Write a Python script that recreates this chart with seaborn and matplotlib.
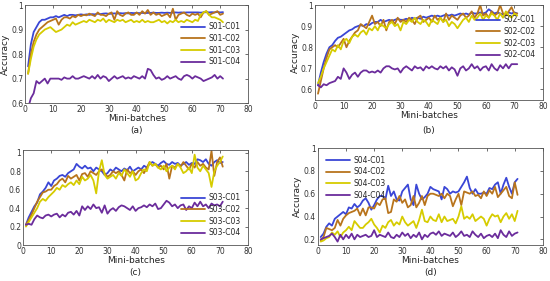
import pandas as pd
import numpy as np
import matplotlib.pyplot as plt
import seaborn as sns

# ---- data (x = mini-batch 1..71) ----
a_c01 = [0.75, 0.84, 0.89, 0.91, 0.93, 0.94, 0.94, 0.945, 0.95, 0.95,
         0.955, 0.95, 0.955, 0.96, 0.955, 0.96, 0.96, 0.958, 0.96, 0.962,
         0.96, 0.962, 0.96, 0.963, 0.962, 0.965, 0.963, 0.965, 0.966, 0.964,
         0.965, 0.966, 0.965, 0.967, 0.966, 0.967, 0.966, 0.968, 0.967, 0.968,
         0.967, 0.968, 0.967, 0.968, 0.968, 0.969, 0.968, 0.968, 0.969, 0.968,
         0.969, 0.968, 0.969, 0.97, 0.969, 0.97, 0.969, 0.97, 0.97, 0.97,
         0.97, 0.97, 0.969, 0.97, 0.971, 0.97, 0.971, 0.97, 0.972, 0.97, 0.971]
a_c02 = [0.72, 0.80, 0.85, 0.88, 0.90, 0.91, 0.92, 0.93, 0.935, 0.94,
         0.945, 0.92, 0.94, 0.95, 0.95, 0.945, 0.955, 0.95, 0.96, 0.955,
         0.96, 0.958, 0.965, 0.96, 0.955, 0.97, 0.96, 0.96, 0.955, 0.965,
         0.97, 0.94, 0.975, 0.96, 0.955, 0.965, 0.97, 0.96, 0.96, 0.97,
         0.96, 0.975, 0.965, 0.98, 0.96, 0.97, 0.96, 0.965, 0.955, 0.96,
         0.965, 0.95, 0.985, 0.94, 0.96, 0.965, 0.97, 0.96, 0.955, 0.965,
         0.96, 0.965, 0.95, 0.97, 0.975, 0.96, 0.965, 0.97, 0.975, 0.96, 0.965]
a_c03 = [0.72, 0.78, 0.83, 0.86, 0.88, 0.89, 0.90, 0.905, 0.91, 0.90,
         0.89, 0.895, 0.90, 0.91, 0.92, 0.915, 0.93, 0.92, 0.925, 0.93,
         0.935, 0.93, 0.94, 0.935, 0.93, 0.94, 0.935, 0.945, 0.93, 0.94,
         0.935, 0.93, 0.94, 0.935, 0.94, 0.93, 0.935, 0.94, 0.93, 0.935,
         0.93, 0.94, 0.93, 0.935, 0.93, 0.93, 0.935, 0.94, 0.93, 0.935,
         0.925, 0.935, 0.93, 0.94, 0.93, 0.935, 0.93, 0.94, 0.935, 0.93,
         0.94, 0.935, 0.96, 0.97, 0.975, 0.96, 0.95, 0.95, 0.945, 0.94, 0.93]
a_c04 = [0.58, 0.62, 0.64, 0.69, 0.68, 0.69, 0.70, 0.68, 0.70, 0.70,
         0.70, 0.70, 0.695, 0.705, 0.70, 0.70, 0.71, 0.70, 0.70, 0.705,
         0.71, 0.705, 0.70, 0.71, 0.70, 0.715, 0.70, 0.71, 0.705, 0.69,
         0.70, 0.71, 0.70, 0.705, 0.71, 0.70, 0.705, 0.70, 0.71, 0.705,
         0.70, 0.71, 0.70, 0.74, 0.735, 0.715, 0.70, 0.705, 0.695, 0.70,
         0.71, 0.70, 0.705, 0.71, 0.70, 0.695, 0.71, 0.715, 0.71, 0.70,
         0.71, 0.705, 0.70, 0.69, 0.695, 0.70, 0.705, 0.715, 0.70, 0.71, 0.70]

b_c01 = [0.62, 0.68, 0.73, 0.77, 0.80, 0.81, 0.83, 0.845, 0.85, 0.86,
         0.87, 0.88, 0.885, 0.895, 0.90, 0.905, 0.90, 0.91, 0.905, 0.915,
         0.92, 0.92, 0.93, 0.92, 0.925, 0.93, 0.925, 0.93, 0.935, 0.93,
         0.93, 0.935, 0.93, 0.94, 0.935, 0.94, 0.935, 0.945, 0.94, 0.945,
         0.95, 0.945, 0.95, 0.945, 0.95, 0.955, 0.95, 0.955, 0.95, 0.955,
         0.96, 0.955, 0.96, 0.955, 0.965, 0.96, 0.96, 0.965, 0.96, 0.965,
         0.98, 0.97, 0.96, 0.965, 0.96, 0.955, 0.96, 0.965, 0.96, 0.965, 0.96]
b_c02 = [0.58, 0.64, 0.70, 0.75, 0.79, 0.80, 0.81, 0.80, 0.82, 0.84,
         0.80, 0.83, 0.85, 0.87, 0.88, 0.91, 0.90, 0.89, 0.92, 0.95,
         0.91, 0.92, 0.90, 0.93, 0.88, 0.92, 0.93, 0.91, 0.94, 0.92,
         0.93, 0.92, 0.94, 0.93, 0.91, 0.94, 0.95, 0.92, 0.93, 0.94,
         0.92, 0.95, 0.93, 0.94, 0.92, 0.96, 0.93, 0.95, 0.94, 0.93,
         0.95, 0.96, 0.94, 0.95, 0.97, 0.94, 0.96, 1.00, 0.95, 0.96,
         0.94, 0.97, 0.95, 0.96, 1.00, 0.96, 0.95, 0.97, 0.99, 0.96, 0.96]
b_c03 = [0.63, 0.66, 0.70, 0.73, 0.76, 0.79, 0.78, 0.81, 0.79, 0.83,
         0.84, 0.82, 0.85, 0.86, 0.85, 0.87, 0.88, 0.86, 0.89, 0.88,
         0.90, 0.88, 0.91, 0.90, 0.89, 0.91, 0.92, 0.90, 0.91, 0.88,
         0.92, 0.91, 0.93, 0.92, 0.94, 0.92, 0.91, 0.93, 0.92, 0.90,
         0.93, 0.92, 0.91, 0.94, 0.92, 0.93, 0.90, 0.92, 0.91, 0.89,
         0.91, 0.93, 0.94, 0.92, 0.95, 0.93, 0.94, 0.96, 0.93, 0.95,
         0.94, 0.96, 0.95, 0.93, 0.96, 0.94, 0.97, 0.95, 0.94, 0.96, 0.95]
b_c04 = [0.62, 0.61, 0.625, 0.62, 0.63, 0.635, 0.64, 0.66, 0.65, 0.70,
         0.68, 0.65, 0.67, 0.68, 0.66, 0.68, 0.69, 0.69, 0.68, 0.685,
         0.68, 0.69, 0.68, 0.70, 0.71, 0.71, 0.70, 0.695, 0.70, 0.68,
         0.70, 0.71, 0.70, 0.69, 0.71, 0.70, 0.705, 0.69, 0.71, 0.70,
         0.71, 0.70, 0.695, 0.71, 0.70, 0.71, 0.69, 0.705, 0.695, 0.665,
         0.70, 0.71, 0.69, 0.70, 0.72, 0.70, 0.71, 0.69, 0.705, 0.71,
         0.69, 0.72, 0.70, 0.69, 0.715, 0.70, 0.72, 0.70, 0.72, 0.72, 0.72]

c_c01 = [0.22, 0.30, 0.36, 0.42, 0.46, 0.55, 0.58, 0.62, 0.68, 0.64,
         0.70, 0.72, 0.75, 0.76, 0.74, 0.78, 0.80, 0.82, 0.88, 0.85,
         0.83, 0.86, 0.83, 0.84, 0.80, 0.84, 0.82, 0.80, 0.76, 0.78,
         0.82, 0.80, 0.84, 0.82, 0.80, 0.83, 0.81, 0.85, 0.80, 0.82,
         0.84, 0.82, 0.86, 0.84, 0.88, 0.90, 0.88, 0.86, 0.89, 0.91,
         0.88, 0.87, 0.90, 0.88, 0.89, 0.86, 0.88, 0.90, 0.87, 0.89,
         0.88, 0.93, 0.92, 0.90, 0.93, 0.88, 0.86, 0.90, 0.92, 0.89, 0.90]
c_c02 = [0.22, 0.27, 0.33, 0.40, 0.47, 0.52, 0.57, 0.58, 0.60, 0.60,
         0.64, 0.66, 0.70, 0.72, 0.68, 0.75, 0.72, 0.74, 0.76, 0.70,
         0.77, 0.78, 0.74, 0.80, 0.78, 0.76, 0.80, 0.82, 0.78, 0.74,
         0.76, 0.80, 0.78, 0.80, 0.76, 0.70, 0.82, 0.78, 0.80, 0.76,
         0.80, 0.82, 0.78, 0.84, 0.90, 0.86, 0.88, 0.84, 0.86, 0.82,
         0.88, 0.72, 0.86, 0.84, 0.88, 0.85, 0.90, 0.86, 0.82, 0.88,
         0.84, 0.90, 0.86, 0.88, 0.84, 0.82, 1.02, 0.75, 0.90, 0.95, 0.85]
c_c03 = [0.20, 0.25, 0.30, 0.35, 0.40, 0.47, 0.50, 0.48, 0.52, 0.55,
         0.58, 0.62, 0.60, 0.65, 0.63, 0.66, 0.68, 0.65, 0.70, 0.66,
         0.74, 0.70, 0.72, 0.76, 0.70, 0.56, 0.80, 0.92, 0.76, 0.72,
         0.74, 0.76, 0.72, 0.78, 0.75, 0.82, 0.78, 0.74, 0.80, 0.70,
         0.72, 0.78, 0.82, 0.80, 0.90, 0.86, 0.88, 0.84, 0.82, 0.86,
         0.80, 0.84, 0.86, 0.82, 0.88, 0.84, 0.78, 0.80, 0.84, 0.78,
         0.98, 0.84, 0.80, 0.86, 0.82, 0.78, 0.63, 0.80, 0.86, 0.90, 0.96]
c_c04 = [0.22, 0.23, 0.22, 0.28, 0.32, 0.30, 0.29, 0.32, 0.33, 0.31,
         0.33, 0.34, 0.30, 0.33, 0.31, 0.35, 0.36, 0.33, 0.37, 0.32,
         0.42, 0.38, 0.42, 0.39, 0.44, 0.40, 0.41, 0.35, 0.43, 0.34,
         0.38, 0.40, 0.37, 0.41, 0.43, 0.42, 0.40, 0.38, 0.42, 0.37,
         0.40, 0.41, 0.43, 0.41, 0.44, 0.42, 0.45, 0.39, 0.40, 0.44,
         0.48, 0.46, 0.42, 0.44, 0.40, 0.43, 0.44, 0.38, 0.42, 0.40,
         0.46, 0.42, 0.47, 0.42, 0.44, 0.40, 0.45, 0.43, 0.44, 0.42, 0.47]

d_c01 = [0.22, 0.25, 0.31, 0.34, 0.32, 0.38, 0.40, 0.42, 0.44, 0.42,
         0.48, 0.47, 0.51, 0.48, 0.50, 0.54, 0.56, 0.52, 0.46, 0.50,
         0.55, 0.58, 0.58, 0.55, 0.67, 0.58, 0.62, 0.55, 0.54, 0.62,
         0.65, 0.68, 0.55, 0.50, 0.68, 0.60, 0.55, 0.57, 0.60, 0.66,
         0.64, 0.63, 0.62, 0.55, 0.66, 0.64, 0.60, 0.62, 0.61, 0.62,
         0.66, 0.70, 0.75, 0.65, 0.60, 0.64, 0.60, 0.60, 0.61, 0.60,
         0.65, 0.64, 0.68, 0.70, 0.60, 0.68, 0.74, 0.66, 0.60, 0.70, 0.73]
d_c02 = [0.19, 0.22, 0.30, 0.29, 0.28, 0.30, 0.37, 0.32, 0.38, 0.41,
         0.43, 0.44, 0.45, 0.47, 0.41, 0.47, 0.41, 0.48, 0.48, 0.47,
         0.52, 0.50, 0.55, 0.56, 0.43, 0.44, 0.55, 0.53, 0.58, 0.52,
         0.55, 0.48, 0.50, 0.58, 0.48, 0.52, 0.58, 0.50, 0.58, 0.60,
         0.60, 0.59, 0.58, 0.60, 0.56, 0.60, 0.58, 0.49, 0.55, 0.60,
         0.50, 0.62, 0.61, 0.60, 0.62, 0.58, 0.59, 0.56, 0.62, 0.58,
         0.63, 0.60, 0.66, 0.57, 0.60, 0.63, 0.66, 0.58, 0.56, 0.70, 0.59]
d_c03 = [0.18, 0.19, 0.21, 0.22, 0.26, 0.24, 0.27, 0.22, 0.26, 0.28,
         0.31, 0.28, 0.36, 0.33, 0.30, 0.30, 0.33, 0.35, 0.38, 0.33,
         0.30, 0.26, 0.32, 0.30, 0.35, 0.37, 0.32, 0.35, 0.33, 0.40,
         0.35, 0.32, 0.34, 0.36, 0.30, 0.37, 0.46, 0.36, 0.35, 0.40,
         0.37, 0.36, 0.42, 0.35, 0.40, 0.36, 0.37, 0.38, 0.34, 0.40,
         0.49, 0.38, 0.40, 0.38, 0.42, 0.36, 0.38, 0.40, 0.38, 0.32,
         0.38, 0.42, 0.40, 0.41, 0.35, 0.40, 0.43, 0.38, 0.42, 0.36, 0.45]
d_c04 = [0.20, 0.21, 0.22, 0.23, 0.25, 0.22, 0.18, 0.24, 0.20, 0.24,
         0.21, 0.25, 0.20, 0.24, 0.22, 0.23, 0.24, 0.22, 0.23, 0.28,
         0.22, 0.24, 0.23, 0.22, 0.26, 0.22, 0.21, 0.24, 0.22, 0.26,
         0.23, 0.25, 0.21, 0.24, 0.22, 0.26, 0.20, 0.24, 0.22, 0.25,
         0.26, 0.24, 0.27, 0.23, 0.25, 0.24, 0.23, 0.26, 0.22, 0.24,
         0.27, 0.23, 0.24, 0.22, 0.27, 0.24, 0.22, 0.25, 0.21, 0.23,
         0.24, 0.22, 0.25, 0.21, 0.28, 0.24, 0.22, 0.27, 0.23, 0.25, 0.26]

colors = ['#3a46d6', '#b8741c', '#d6cc00', '#6b2c9c']

panels = [
    ('S01', [a_c01, a_c02, a_c03, a_c04], (0.6, 1.0), [0.6, 0.7, 0.8, 0.9, 1.0],
     ['0.6', '0.7', '0.8', '0.9', '1'], True, ('center right', (1.0, 0.6)), '(a)'),
    ('S02', [b_c01, b_c02, b_c03, b_c04], (0.55, 1.0), [0.6, 0.7, 0.8, 0.9, 1.0],
     ['0.6', '0.7', '0.8', '0.9', '1'], True, ('center right', (1.0, 0.66)), '(b)'),
    ('S03', [c_c01, c_c02, c_c03, c_c04], (0.0, 1.03), [0, 0.2, 0.4, 0.6, 0.8, 1.0],
     ['0', '0.2', '0.4', '0.6', '0.8', '1'], False, ('lower right', (1.0, 0.0)), '(c)'),
    ('S04', [d_c01, d_c02, d_c03, d_c04], (0.15, 1.0), [0.2, 0.4, 0.6, 0.8, 1.0],
     ['0.2', '0.4', '0.6', '0.8', '1'], True, ('upper left', (0.0, 1.0)), '(d)'),
]

# axes boxes in figure fraction [left, bottom, width, height]
boxes = [
    [0.046, 0.633, 0.405, 0.349],
    [0.573, 0.644, 0.414, 0.338],
    [0.042, 0.128, 0.409, 0.338],
    [0.578, 0.128, 0.409, 0.345],
]
sub_y = [0.535, 0.535, 0.03, 0.03]

sns.set_style('white')
plt.rcParams['font.family'] = ['DejaVu Sans']

fig = plt.figure(figsize=(5.5, 2.81), dpi=100)

for (subj, series, ylim, yt, ytl, ylab, leg, sub), box, sy in zip(panels, boxes, sub_y):
    ax = fig.add_axes(box)
    names = [f'{subj}-C0{i+1}' for i in range(4)]
    frames = []
    for name, vals in zip(names, series):
        frames.append(pd.DataFrame({'batch': np.arange(1, len(vals) + 1),
                                    'acc': vals, 'run': name}))
    df = pd.concat(frames, ignore_index=True)
    sns.lineplot(data=df, x='batch', y='acc', hue='run',
                 palette=dict(zip(names, colors)), linewidth=1.3, ax=ax)
    ax.set_xlim(0, 80)
    ax.set_ylim(*ylim)
    ax.set_xticks(range(0, 81, 10))
    ax.set_yticks(yt)
    ax.set_yticklabels(ytl)
    ax.tick_params(direction='in', labelsize=5.5, length=2, width=0.5,
                   colors='#333333', pad=1.5, top=True, right=True)
    for sp in ax.spines.values():
        sp.set_color('#555555')
        sp.set_linewidth(0.6)
    ax.set_xlabel('Mini-batches', fontsize=6.5, labelpad=0, color='#222222')
    ax.set_ylabel('Accuracy' if ylab else '', fontsize=6.5, labelpad=1, color='#222222')
    ax.legend(loc=leg[0], bbox_to_anchor=leg[1], fontsize=5.5, frameon=False,
              handlelength=3.2, handletextpad=0.4, labelspacing=0.35, borderaxespad=0.6)
    fig.text(box[0] + box[2] / 2, sy, sub, ha='center', va='center', fontsize=6.5, color='#222222')

fig.savefig('out.png', dpi=100)
